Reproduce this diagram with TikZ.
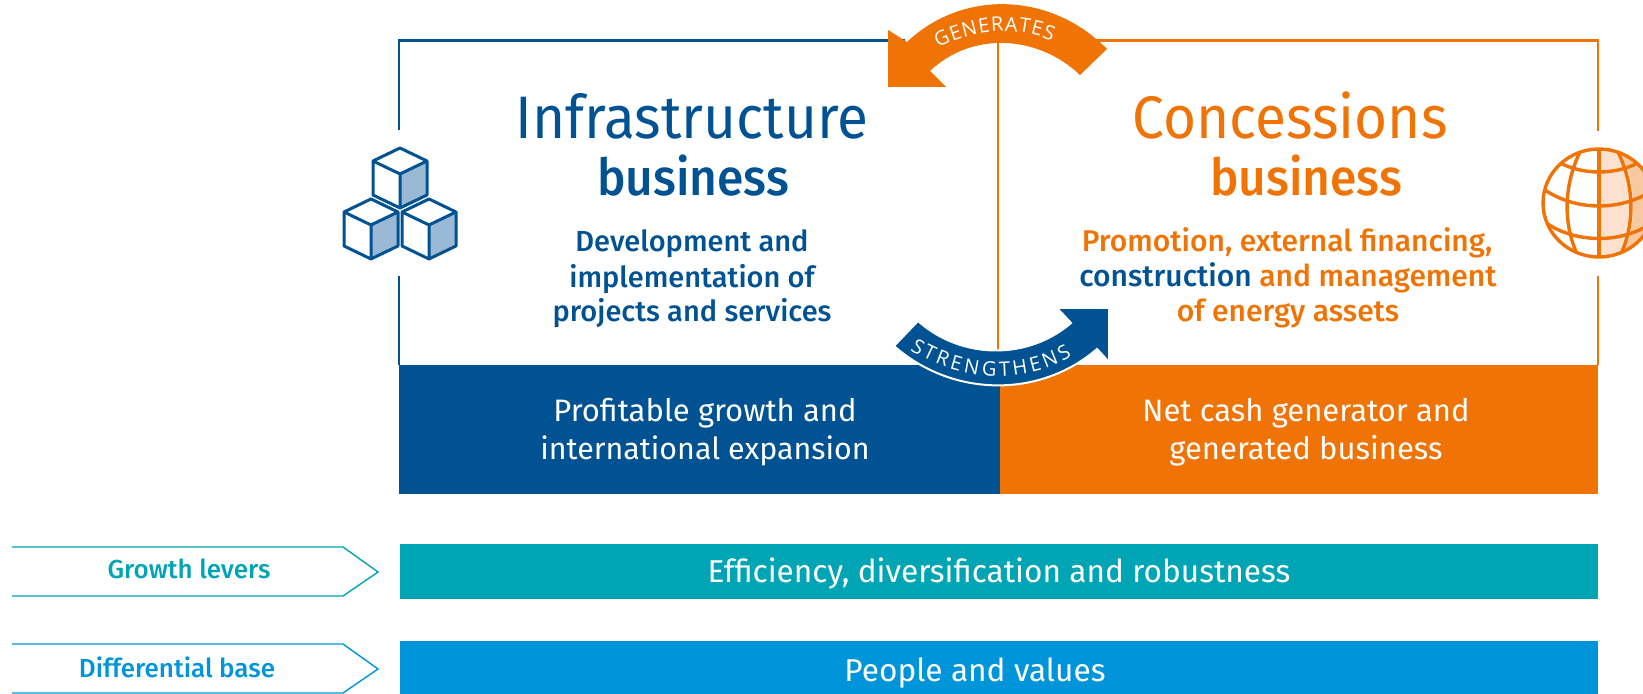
\documentclass[tikz,border=0pt]{standalone}
\usepackage{fontspec}
\setmainfont{Fira Sans}
\newfontfamily\medf{Fira Sans Medium}
\newfontfamily\titlef[FakeStretch=0.945]{Fira Sans}
\newfontfamily\titleg[FakeStretch=0.94]{Fira Sans Medium}
\newfontfamily\arcf{Open Sans}
\usetikzlibrary{decorations.text}
\definecolor{iblue}{HTML}{005293}
\definecolor{corange}{HTML}{F07305}
\definecolor{cteal}{HTML}{00A5B5}
\definecolor{cblue}{HTML}{0095DA}
\definecolor{cubeshade}{HTML}{9AB9D4}
\definecolor{globeA}{HTML}{FBE1CE}
\definecolor{globeB}{HTML}{F8C9A1}
\tikzset{
 title/.style={anchor=base,font=\titlef\fontsize{30}{30}\selectfont},
 titleb/.style={anchor=base,font=\titleg\fontsize{25.5}{25.5}\selectfont},
 subt/.style={anchor=base,font=\medf\fontsize{14.5}{14.5}\selectfont},
 subo/.style={anchor=base,font=\medf\fontsize{15}{15}\selectfont},
 bartext/.style={anchor=base,text=white,font=\fontsize{15.5}{15.5}\selectfont},
 barnarrow/.style={anchor=base,text=white,font=\fontsize{15.2}{15.2}\selectfont},
 barwide/.style={anchor=base,text=white,font=\fontsize{15.8}{15.8}\selectfont},
 lever/.style={anchor=base,font=\medf\fontsize{13}{13}\selectfont},
 frameline/.style={line width=1.3pt},
 cubeline/.style={draw=iblue,line width=1.5pt,line join=round},
 globeline/.style={draw=corange,line width=1.7pt},
 arcword/.style={decoration={text effects along path,text={#1},text align=center,
   text effects/.cd,fit text to path,
   characters={text along path,font=\arcf\fontsize{10}{10}\selectfont,text=white}}},
}
\newcommand{\cubeat}[2]{%
 \begin{scope}[shift={(#1,#2)}]
  \fill[cubeshade] (0,26) -- (27,13) -- (27,47) -- (0,60) -- cycle;
  \draw[cubeline] (0,0) -- (27,13) -- (27,47) -- (0,60) -- (-27,47) -- (-27,13) -- cycle;
  \draw[cubeline] (-27,13) -- (0,26) -- (27,13) (0,26) -- (0,60);
 \end{scope}}
\begin{document}
\begin{tikzpicture}[x=0.5pt,y=-0.5pt]
\useasboundingbox (0,0) rectangle (1643,694);
% frame
\draw[iblue,frameline] (399,130) -- (399,40.5) -- (905,40.5);
\draw[iblue,frameline] (399,276) -- (399,365);
\draw[corange,frameline] (1090,40.5) -- (1598,40.5) -- (1598,131);
\draw[corange,frameline] (1598,276) -- (1598,365);
\draw[corange,frameline] (998,40) -- (998,352);
% bars
\fill[iblue] (399,365) rectangle (1000,494);
\fill[corange] (1000,365) rectangle (1598,494);
\fill[cteal] (400,544) rectangle (1598,599);
\fill[cblue] (400,641) rectangle (1598,694);
% cubes
\cubeat{400}{148}
\cubeat{371}{199}
\cubeat{429}{199}
% globe
\begin{scope}
 \clip (0,0) rectangle (1643,694);
 \fill[white] (1599,203) ellipse (56 and 54);
 \begin{scope}
  \clip (1599,203) ellipse (56 and 54);
  \fill[globeA] (1599,140) rectangle (1660,270);
  \fill[globeB] (1618,147) .. controls (1638,180) and (1638,226) .. (1621,259) -- (1670,259) -- (1670,147) -- cycle;
  \draw[globeline] (1581,150) .. controls (1563,185) and (1563,225) .. (1578,256);
  \draw[globeline] (1617,150) .. controls (1635,185) and (1635,225) .. (1620,256);
  \draw[globeline] (1599,145) -- (1599,262);
  \draw[globeline] (1555,160) .. controls (1580,176) and (1618,176) .. (1643,160);
  \draw[globeline] (1542,188) .. controls (1575,212) and (1623,212) .. (1656,188);
  \draw[globeline] (1545,222) .. controls (1575,244) and (1623,244) .. (1653,222);
 \end{scope}
 \draw[globeline] (1599,203) ellipse (56 and 54);
\end{scope}
% generates arrow
\fill[corange] (888,30) -- (907,42) .. controls (963,-11) and (1051,-8) .. (1107,49)
 -- (1080,75) .. controls (1038,35) and (972,31) .. (930,71) -- (946,87) -- (888,87) -- cycle;
\path[decorate,arcword=GENERATES] (938,48) .. controls (975,30) and (1014,25) .. (1052,41);
% strengthens arrow
\fill[iblue,draw=white,line width=1pt] (918,321) .. controls (962,360) and (1028,360) .. (1071,323)
 -- (1057,308) -- (1109,308) -- (1109,362) -- (1097,349)
 .. controls (1039,399) and (952,397) .. (894,346) -- cycle;
\path[decorate,arcword=STRENGTHENS] (910,350) .. controls (961,381) and (1021,386) .. (1072,356);
% titles
\node[title,text=iblue] (t1) at (692,139) {Infrastructure};
\node[titleb,text=iblue] (t2) at (693,196) {business};
\node[title,text=corange] (t3) at (1290,139) {Concessions};
\node[titleb,text=corange] (t4) at (1306,196) {business};
\node[subt,text=iblue] (s1) at (692,252) {Development and};
\node[subt,text=iblue] (s2) at (692,288) {implementation of};
\node[subt,text=iblue] (s3) at (692,322) {projects and services};
\node[subo,text=corange] (s4) at (1287,252) {Promotion, external financing,};
\node[subo] (s5) at (1288,287) {\textcolor{iblue}{construction} \textcolor{corange}{and management}};
\node[subo,text=corange] (s6) at (1288,322) {of energy assets};
\node[bartext] (b1) at (705,422) {Profitable growth and};
\node[barnarrow] (b2) at (705,460) {international expansion};
\node[bartext] (b3) at (1306,422) {Net cash generator and};
\node[bartext] (b4) at (1306,460) {generated business};
\node[barwide] (b5) at (999,582) {Efficiency, diversification and robustness};
\node[barwide] (b6) at (975,681) {People and values};
% levers
\draw[cteal,line width=.7pt] (12,547) -- (343,547) -- (378,572) -- (343,596) -- (12,596);
\draw[cblue,line width=.7pt] (12,644) -- (343,644) -- (378,669) -- (343,693) -- (12,693);
\node[lever,text=cteal] (l1) at (189,579) {Growth levers};
\node[lever,text=cblue] (l2) at (177,677) {Differential base};
\end{tikzpicture}
\end{document}
